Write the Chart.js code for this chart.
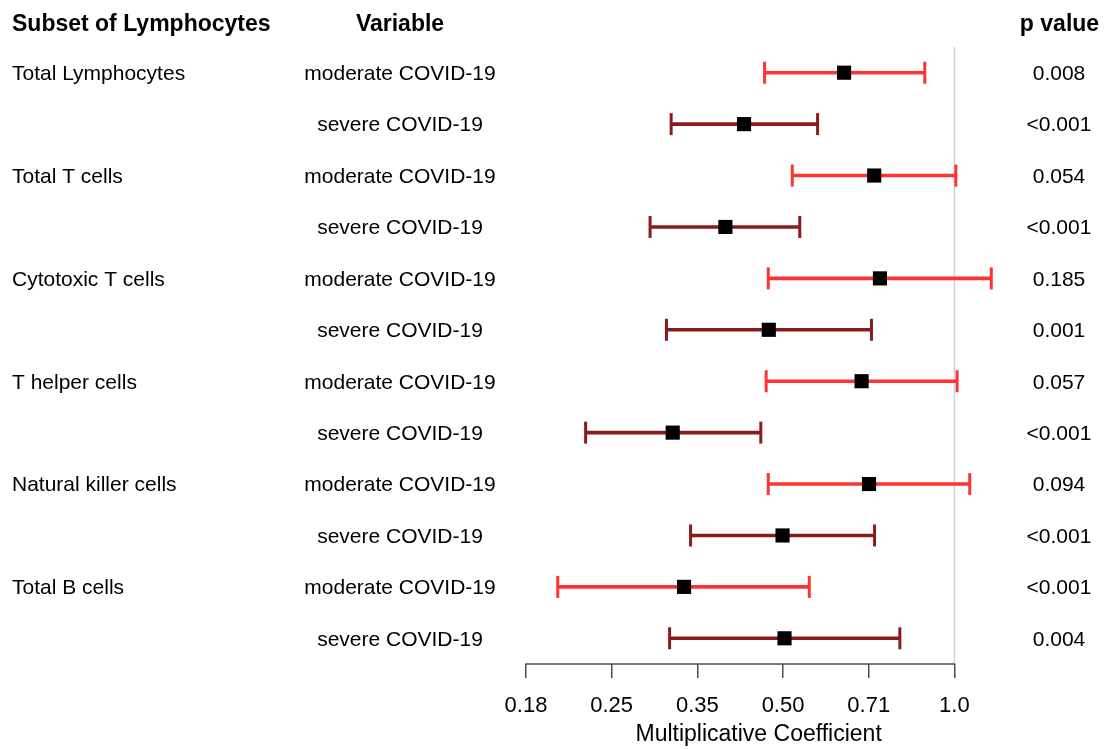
<!DOCTYPE html>
<html>
<head>
<meta charset="utf-8">
<title>Lymphocyte subsets - multiplicative coefficients</title>
<script src="https://cdn.jsdelivr.net/npm/chart.js@4"></script>
<style>
  html, body { margin: 0; padding: 0; background: #fff; }
  canvas { display: block; }
</style>
</head>
<body>
<canvas id="forestChart" width="1107" height="749"></canvas>
<script>
// rows: each subset has a moderate and a severe row
const subsets = ["Total Lymphocytes", "Total T cells", "Cytotoxic T cells", "T helper cells", "Natural killer cells", "Total B cells"];
const variables = ["moderate COVID-19", "severe COVID-19"];

const estimates = [0.640, 0.427, 0.723, 0.396, 0.740, 0.472, 0.687, 0.320, 0.708, 0.499, 0.335, 0.503];
const lower     = [0.464, 0.318, 0.519, 0.292, 0.471, 0.312, 0.467, 0.225, 0.471, 0.344, 0.201, 0.316];
const upper     = [0.887, 0.575, 1.006, 0.535, 1.161, 0.715, 1.011, 0.457, 1.064, 0.724, 0.556, 0.802];
const pValues   = ["0.008", "<0.001", "0.054", "<0.001", "0.185", "0.001", "0.057", "<0.001", "0.094", "<0.001", "<0.001", "0.004"];

const tickValues = [Math.SQRT1_2 / 4, 0.25, Math.SQRT1_2 / 2, 0.5, Math.SQRT1_2, 1];
const tickLabels = ["0.18", "0.25", "0.35", "0.50", "0.71", "1.0"];

const FONT = "'Liberation Sans', Arial, sans-serif";
const colorModerate = "#ff3333";
const colorSevere = "#8b1a1a";

const rowKeys = [];
const rowColors = [];
subsets.forEach(function (s) {
    variables.forEach(function (v, j) {
        rowKeys.push(s + " | " + v);
        rowColors.push(j === 0 ? colorModerate : colorSevere);
    });
});

const capPoints = [];
const capColors = [];
rowKeys.forEach(function (key, i) {
    capPoints.push({ x: lower[i], y: key }, { x: upper[i], y: key });
    capColors.push(rowColors[i], rowColors[i]);
});

// reference line at 1, axis line, and the text columns
const forestTable = {
    id: "forestTable",
    beforeDatasetsDraw(chart) {
        const { ctx, chartArea, scales: { x } } = chart;
        const xRef = x.getPixelForValue(1);
        ctx.save();
        ctx.lineWidth = 1.5;
        ctx.strokeStyle = "#d3d3d3";
        ctx.beginPath();
        ctx.moveTo(xRef, chartArea.top);
        ctx.lineTo(xRef, chartArea.bottom);
        ctx.stroke();

        ctx.strokeStyle = "#4d4d4d";
        ctx.beginPath();
        ctx.moveTo(x.getPixelForValue(tickValues[0]) - 0.75, chartArea.bottom);
        ctx.lineTo(x.getPixelForValue(tickValues[tickValues.length - 1]) + 0.75, chartArea.bottom);
        ctx.stroke();
        ctx.restore();
    },
    afterDraw(chart) {
        const { ctx, scales: { y } } = chart;
        ctx.save();
        ctx.fillStyle = "#000";
        ctx.textBaseline = "middle";

        ctx.font = "bold 23px " + FONT;
        ctx.textAlign = "left";
        ctx.fillText("Subset of Lymphocytes", 12, 24.5);
        ctx.textAlign = "center";
        ctx.fillText("Variable", 400, 24.5);
        ctx.fillText("p value", 1059.5, 24.5);

        ctx.font = "21px " + FONT;
        rowKeys.forEach(function (key, i) {
            const py = y.getPixelForValue(i) + 1.5;
            if (i % 2 === 0) {
                ctx.textAlign = "left";
                ctx.fillText(subsets[i / 2], 12, py);
            }
            ctx.textAlign = "center";
            ctx.fillText(variables[i % 2], 400, py);
            ctx.fillText(pValues[i], 1059, py);
        });
        ctx.restore();
    }
};

new Chart(document.getElementById("forestChart"), {
    type: "bar",
    data: {
        labels: rowKeys,
        datasets: [
            {
                type: "scatter",
                label: "Estimate",
                data: rowKeys.map(function (key, i) { return { x: estimates[i], y: key }; }),
                pointStyle: "rect",
                pointRadius: 10,
                pointBorderWidth: 0,
                pointBackgroundColor: "#000",
                pointBorderColor: "#000",
                clip: false,
                order: 0
            },
            {
                type: "scatter",
                label: "CI caps",
                data: capPoints,
                pointStyle: "line",
                rotation: 90,
                pointRadius: 11,
                pointBorderWidth: 3,
                pointBorderColor: capColors,
                pointBackgroundColor: capColors,
                clip: false,
                order: 1
            },
            {
                label: "95% CI",
                data: rowKeys.map(function (key, i) { return [lower[i], upper[i]]; }),
                backgroundColor: rowColors,
                borderWidth: 0,
                barThickness: 3,
                clip: false,
                order: 2
            }
        ]
    },
    options: {
        indexAxis: "y",
        responsive: false,
        animation: false,
        events: [],
        layout: { padding: { left: 526, right: 1107 - 991.3, top: 47, bottom: 0 } },
        plugins: {
            legend: { display: false },
            tooltip: { enabled: false }
        },
        scales: {
            y: {
                type: "category",
                display: false,
                offset: true
            },
            x: {
                type: "logarithmic",
                min: tickValues[0],
                max: Math.max.apply(null, upper),
                offset: false,
                border: { display: false },
                grid: {
                    offset: false,
                    drawOnChartArea: false,
                    drawTicks: true,
                    tickLength: 14,
                    color: "#4d4d4d",
                    lineWidth: 1.5
                },
                afterBuildTicks: function (scale) {
                    scale.ticks = tickValues.map(function (v) { return { value: v }; });
                },
                afterFit: function (scale) {
                    scale.height = 85;
                },
                ticks: {
                    padding: 15,
                    color: "#000",
                    font: { family: FONT, size: 22 },
                    maxRotation: 0,
                    autoSkip: false,
                    callback: function (value, index) { return tickLabels[index]; }
                },
                title: {
                    display: true,
                    text: "Multiplicative Coefficient",
                    color: "#000",
                    font: { family: FONT, size: 23 },
                    padding: { top: 0, bottom: 1 }
                }
            }
        }
    },
    plugins: [forestTable]
});
</script>
</body>
</html>
